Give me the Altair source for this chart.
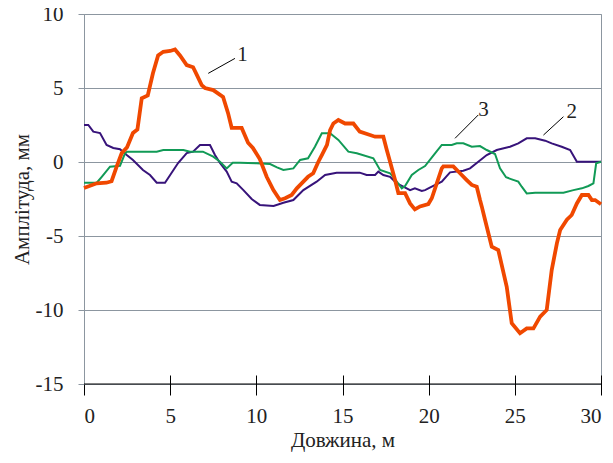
import altair as alt
import pandas as pd

# Series 1 (orange, thick)
x1 = [0, 0.74, 1.3, 1.6, 1.9, 2.19, 2.5, 2.84, 3.1, 3.35, 3.7, 4.0, 4.3, 4.6, 5.0, 5.28, 5.57, 5.96,
      6.33, 6.54, 6.83, 7.02, 7.5, 8.07, 8.36, 8.57, 9.15, 9.52, 9.8, 10.2, 10.6, 10.99, 11.37, 11.67,
      12.05, 12.35, 12.63, 13.0, 13.3, 13.6, 13.8, 14.1, 14.28, 14.47, 14.76, 15.15, 15.63, 16.0, 16.6,
      16.89, 17.37, 17.57, 17.76, 18.05, 18.24, 18.63, 18.92, 19.2, 19.5, 19.98, 20.18, 20.47, 20.76,
      20.85, 21.43, 21.82, 22.21, 22.5, 22.79, 22.98, 23.08, 23.27, 23.66, 24.04, 24.53, 24.82, 25.3,
      25.69, 26.08, 26.47, 26.85, 27.14, 27.44, 27.63, 28.02, 28.3, 28.6, 28.89, 29.27, 29.47, 29.66, 30.0]
y1 = [-1.76, -1.44, -1.4, -1.3, -0.3, 0.6, 1.0, 1.96, 2.2, 4.3, 4.5, 6.0, 7.2, 7.45, 7.5, 7.6, 7.2, 6.55,
      6.4, 5.9, 5.2, 5.0, 4.86, 4.4, 3.3, 2.3, 2.3, 1.3, 0.95, 0.2, -1.0, -1.9, -2.57, -2.45,
      -2.23, -1.78, -1.44, -1.0, -0.76, 0.02, 0.47, 1.15, 2.16, 2.6, 2.84, 2.6, 2.6, 2.05, 1.82,
      1.71, 1.71, 0.81, 0.02, -1.22, -2.1, -2.1, -2.8, -3.2, -3.0, -2.84, -2.45, -1.44, -0.43,
      -0.3, -0.3, -0.76, -1.22, -1.55, -1.67, -2.57, -3.0, -3.9, -5.72, -5.95, -8.43, -10.9, -11.57,
      -11.24, -11.24, -10.45, -10.0, -7.3, -5.5, -4.6, -3.9, -3.58, -2.8, -2.23, -2.23, -2.57, -2.57, -2.85]

# Series 2 (dark purple)
x2 = [0, 0.25, 0.54, 0.93, 1.31, 1.7, 2.09, 2.48, 2.84, 3.42, 3.83, 4.22, 4.7, 5.0, 5.46, 5.96, 6.33,
      6.73, 7.31, 7.6, 7.89, 8.28, 8.57, 8.86, 9.25, 9.73, 10.2, 11.0, 11.57, 12.15, 12.73, 13.5, 13.99,
      14.66, 16.0, 16.4, 16.89, 17.08, 17.37, 17.76, 18.15, 18.53, 18.92, 19.2, 19.6, 19.79, 20.18,
      20.76, 21.24, 22.01, 22.4, 22.88, 23.37, 23.95, 24.72, 25.2, 25.69, 26.18, 26.76, 27.14, 27.72,
      28.21, 28.6, 30.0]
y2 = [2.5, 2.5, 2.05, 1.95, 1.15, 0.95, 0.86, 0.47, 0.13, -0.54, -0.88, -1.4, -1.4, -0.88, -0.07, 0.6, 0.7,
      1.15, 1.15, 0.47, -0.07, -0.65, -1.33, -1.44, -1.9, -2.5, -2.9, -2.97, -2.75, -2.57, -1.9, -1.33, -0.88,
      -0.72, -0.72, -0.88, -0.88, -0.65, -0.88, -1.0, -1.44, -1.67, -1.9, -1.78, -1.96, -1.9, -1.67,
      -1.33, -0.7, -0.59, -0.43, 0.02, 0.47, 0.81, 1.03, 1.26, 1.6, 1.6, 1.44, 1.26, 1.03,
      0.81, 0.02, 0.02]

# Series 3 (green)
x3 = [0, 0.74, 1.03, 1.51, 2.09, 2.38, 2.5, 4.22, 4.6, 5.77, 6.15, 6.9, 7.5, 7.89, 8.28, 8.63, 9.05, 10.0,
      10.8, 11.2, 11.57, 12.15, 12.54, 13.0, 13.4, 13.8, 14.28, 14.76, 15.34, 15.83, 16.79, 17.18, 17.76,
      18.15, 18.44, 18.63, 19.02, 19.4, 19.79, 20.37, 20.76, 21.34, 21.63, 22.01, 22.5, 22.98, 23.37,
      23.85, 24.14, 24.49, 24.82, 25.2, 25.4, 25.69, 26.18, 27.82, 28.4, 28.89, 29.27, 29.56, 29.72, 30.0]
y3 = [-1.4, -1.4, -1.0, -0.32, -0.25, 0.59, 0.7, 0.7, 0.81, 0.81, 0.7, 0.7, 0.36, 0.02, -0.43, -0.05, -0.05, -0.09,
      -0.14, -0.36, -0.54, -0.43, 0.14, 0.25, 1.03, 1.94, 1.94, 1.49, 0.7, 0.59, 0.25, -0.54, -0.76,
      -1.33, -1.78, -1.62, -0.88, -0.54, -0.27, 0.59, 1.15, 1.15, 1.26, 1.26, 1.03, 1.08, 0.81,
      0.54, -0.43, -1.03, -1.17, -1.33, -1.67, -2.12, -2.07, -2.07, -1.9, -1.78, -1.62, -1.44, -0.09, 0.02]

x_ticks = [0, 5, 10, 15, 20, 25, 30]
y_ticks = [-15, -10, -5, 0, 5, 10]

# Annotation labels and leader lines (data units)
ann_text = ["1", "3", "2"]
ann_tx = [9.2, 23.18, 28.3]
ann_ty = [7.23, 3.51, 3.4]
ann_x0 = [7.21, 21.53, 26.66]
ann_y0 = [5.99, 1.6, 1.82]
ann_x1 = [8.76, 22.88, 27.82]
ann_y1 = [7.0, 3.18, 3.06]

FONT = "Times New Roman, Liberation Serif, serif"
GRID = "#8C96A0"
FS = 21

d1 = pd.DataFrame({"x": x1, "y": y1})
d2 = pd.DataFrame({"x": x2, "y": y2})
d3 = pd.DataFrame({"x": x3, "y": y3})
dann = pd.DataFrame({"t": ann_text, "tx": ann_tx, "ty": ann_ty,
                     "x0": ann_x0, "y0": ann_y0, "x1": ann_x1, "y1": ann_y1})

xs = alt.Scale(domain=[0, 30], nice=False, zero=False)
ys = alt.Scale(domain=[-15, 10], nice=False, zero=False)

xaxis = alt.Axis(values=x_ticks, title="Довжина, м", offset=-9, domain=False, tickSize=20,
                 tickColor="#000000", tickWidth=1, grid=False, labelPadding=10,
                 labelExpr="'' + datum.value",
                 labelFont=FONT, labelFontSize=FS, labelColor="#222222",
                 titleFont=FONT, titleFontSize=FS, titleFontWeight="normal", titleColor="#222222",
                 titlePadding=3)
yaxis = alt.Axis(values=y_ticks, title="Амплітуда, мм", domain=True, domainColor=GRID,
                 tickColor=GRID, tickSize=6, grid=True, gridColor=GRID, gridOpacity=1,
                 labelExpr="'' + datum.value",
                 labelPadding=15, labelFont=FONT, labelFontSize=FS, labelColor="#222222",
                 titleFont=FONT, titleFontSize=FS, titleFontWeight="normal", titleColor="#222222",
                 titlePadding=3)

base_enc = dict(x=alt.X("x:Q", scale=xs, axis=xaxis), y=alt.Y("y:Q", scale=ys, axis=yaxis))

l2 = alt.Chart(d2).mark_line(color="#37137A", strokeWidth=2).encode(**base_enc)
l3 = alt.Chart(d3).mark_line(color="#119A56", strokeWidth=2).encode(
    x=alt.X("x:Q", scale=xs), y=alt.Y("y:Q", scale=ys))
l1 = alt.Chart(d1).mark_line(color="#F04800", strokeWidth=3.8).encode(
    x=alt.X("x:Q", scale=xs), y=alt.Y("y:Q", scale=ys))

bottom = alt.Chart(pd.DataFrame({"y": [-15]})).mark_rule(color="#000000", strokeWidth=1).encode(
    y=alt.Y("y:Q", scale=ys))

lead = alt.Chart(dann).mark_rule(color="#000000", strokeWidth=1).encode(
    x=alt.X("x0:Q", scale=xs), y=alt.Y("y0:Q", scale=ys), x2="x1:Q", y2="y1:Q")
labels = alt.Chart(dann).mark_text(font=FONT, fontSize=FS, color="#222222").encode(
    x=alt.X("tx:Q", scale=xs), y=alt.Y("ty:Q", scale=ys), text="t:N")

chart = alt.layer(l2, l3, l1, bottom, lead, labels).properties(
    width=517, height=370,
    autosize=alt.AutoSizeParams(type="none"),
    padding={"left": 76, "top": 6, "right": 4, "bottom": 70},
).configure_view(stroke=GRID, strokeWidth=1)

chart.save("out.html", embed_options={"renderer": "svg", "actions": False})
